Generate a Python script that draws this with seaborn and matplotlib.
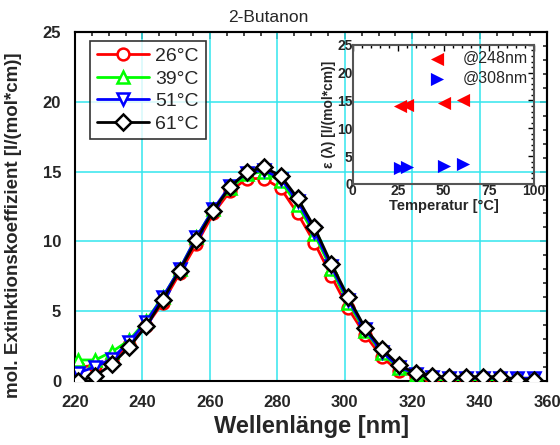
import numpy as np
import pandas as pd
import seaborn as sns
import matplotlib.pyplot as plt
from matplotlib.ticker import MultipleLocator

# Wellenlängen (Messpunkte alle 5 nm)
wavelength = [221, 226, 231, 236, 241, 246, 251, 256, 261, 266, 271, 276, 281,
              286, 291, 296, 301, 306, 311, 316, 321, 326, 331, 336, 341, 346,
              351, 356]

# Extinktionskoeffizienten je Temperatur
eps_26 = [1.0, 1.1, 1.5, 2.6, 3.9, 5.6, 7.7, 9.8, 12.0, 13.6, 14.5, 14.5, 13.8,
          12.0, 9.9, 7.5, 5.2, 3.3, 1.7, 0.7, 0.3, 0.0, 0.0, 0.0, 0.0, 0.0,
          0.0, 0.0]
eps_39 = [1.5, 1.5, 2.1, 2.9, 4.3, 6.0, 8.0, 10.3, 12.3, 13.8, 14.8, 15.0, 14.3,
          12.6, 10.5, 8.0, 5.6, 3.6, 2.0, 0.9, 0.4, 0.0, 0.0, 0.0, 0.0, 0.1,
          0.1, 0.1]
eps_51 = [0.6, 1.0, 1.6, 2.8, 4.2, 6.0, 8.0, 10.3, 12.3, 14.0, 14.9, 15.1, 14.5,
          12.9, 10.7, 8.2, 5.8, 3.7, 2.1, 1.0, 0.5, 0.3, 0.2, 0.2, 0.2, 0.2,
          0.2, 0.2]
eps_61 = [0.0, 0.35, 1.2, 2.4, 3.9, 5.8, 7.9, 10.1, 12.2, 13.9, 15.0, 15.3, 14.7,
          13.1, 11.0, 8.4, 6.0, 3.8, 2.3, 1.15, 0.55, 0.35, 0.25, 0.3, 0.3, 0.3,
          0.1, 0.1]

series_labels = ['26°C', '39°C', '51°C', '61°C']
series_values = [eps_26, eps_39, eps_51, eps_61]
series_colors = ['#ff0000', '#00ff00', '#0000ff', '#000000']
series_markers = ['o', '^', 'v', 'D']
marker_sizes = {'o': 8.5, '^': 9, 'v': 9, 'D': 8.5}

# Inset: Temperaturabhängigkeit
temp = [26, 30, 50, 61]
eps_248 = [14.0, 14.2, 14.5, 15.0]
eps_308 = [2.8, 3.0, 3.2, 3.5]

sns.set_style('white')
plt.rcParams['font.family'] = ['Liberation Sans', 'DejaVu Sans']

fig = plt.figure(figsize=(5.6, 4.45), dpi=100)
ax = fig.add_axes([0.134, 0.144, 0.843, 0.784])

for lab, vals, col, mk in zip(series_labels, series_values, series_colors, series_markers):
    df = pd.DataFrame({'x': wavelength, 'y': vals})
    sns.lineplot(data=df, x='x', y='y', ax=ax, color=col, lw=2, label=lab,
                 marker=mk, markersize=marker_sizes[mk],
                 markerfacecolor='white', markeredgecolor=col,
                 markeredgewidth=1.8, zorder=3)

ax.set_xlim(220, 360)
ax.set_ylim(0, 25)
ax.xaxis.set_major_locator(MultipleLocator(20))
ax.xaxis.set_minor_locator(MultipleLocator(5))
ax.yaxis.set_major_locator(MultipleLocator(5))
ax.yaxis.set_minor_locator(MultipleLocator(1))
ax.grid(True, which='major', color='#33e6ee', lw=1.1, zorder=0)
ax.set_axisbelow(True)
for s in ax.spines.values():
    s.set_color('black')
    s.set_linewidth(1.5)
ax.tick_params(which='both', direction='out', color='black', width=1.2)
ax.tick_params(which='major', length=5, labelsize=12, pad=5)
ax.tick_params(which='minor', length=3)
for t in ax.get_xticklabels() + ax.get_yticklabels():
    t.set_fontweight('bold')

# gespiegelte Achsen oben/rechts mit Ticks nach innen
top = ax.secondary_xaxis('top')
top.xaxis.set_major_locator(MultipleLocator(20))
top.xaxis.set_minor_locator(MultipleLocator(5))
top.tick_params(which='both', direction='in', labeltop=False, width=1.2)
top.tick_params(which='major', length=5)
top.tick_params(which='minor', length=3)
right = ax.secondary_yaxis('right')
right.yaxis.set_major_locator(MultipleLocator(5))
right.yaxis.set_minor_locator(MultipleLocator(1))
right.tick_params(which='both', direction='in', labelright=False, width=1.2)
right.tick_params(which='major', length=5)
right.tick_params(which='minor', length=3)
for sec in (top, right):
    for s in sec.spines.values():
        s.set_linewidth(1.5)

ax.set_xlabel('Wellenlänge [nm]', fontsize=17, fontweight='bold', labelpad=4)
ax.set_ylabel('mol. Extinktionskoeffizient [l/(mol*cm)]', fontsize=13.5,
              fontweight='bold')
ax.yaxis.set_label_coords(-0.112, 0.445)

leg = ax.legend(loc='upper left', bbox_to_anchor=(0.032, 0.975), fontsize=14,
                frameon=True, fancybox=False, edgecolor='black',
                handlelength=2.7, handletextpad=0.3, borderpad=0.35,
                labelspacing=0.25, borderaxespad=0)
leg.get_frame().set_linewidth(1.2)

fig.text(268 / 560, 1 - 18 / 445, '2-Butanon', fontsize=12.5, ha='center', va='center')

# Inset
ins = fig.add_axes([0.630, 0.587, 0.324, 0.312])
ins.patch.set_alpha(0)
sns.scatterplot(x=temp, y=eps_248, ax=ins, marker='<', color='#ff0000', s=90,
                linewidth=0, label='@248nm', zorder=3)
sns.scatterplot(x=temp, y=eps_308, ax=ins, marker='>', color='#0000ff', s=90,
                linewidth=0, label='@308nm', zorder=3)
ins.set_xlim(0, 100)
ins.set_ylim(0, 25)
ins.xaxis.set_major_locator(MultipleLocator(25))
ins.xaxis.set_minor_locator(MultipleLocator(5))
ins.yaxis.set_major_locator(MultipleLocator(5))
ins.yaxis.set_minor_locator(MultipleLocator(1))
for s in ins.spines.values():
    s.set_color('#555555')
    s.set_linewidth(1.5)
ins.tick_params(which='both', direction='in', top=True, right=True,
                color='black', width=1)
ins.tick_params(which='major', length=4, labelsize=10, pad=0)
ins.tick_params(which='minor', length=2)
for t in ins.get_xticklabels() + ins.get_yticklabels():
    t.set_fontweight('bold')
ins.set_xlabel('Temperatur [°C]', fontsize=10.5, fontweight='bold', labelpad=1)
ins.set_ylabel('ε (λ) [l/(mol*cm)]', fontsize=10, fontweight='bold', labelpad=1)
ins.legend(loc='upper right', fontsize=11.5, frameon=False, handletextpad=0.6,
           borderaxespad=0, labelspacing=0.3, markerscale=1.0)

fig.savefig('out.png', dpi=100)
